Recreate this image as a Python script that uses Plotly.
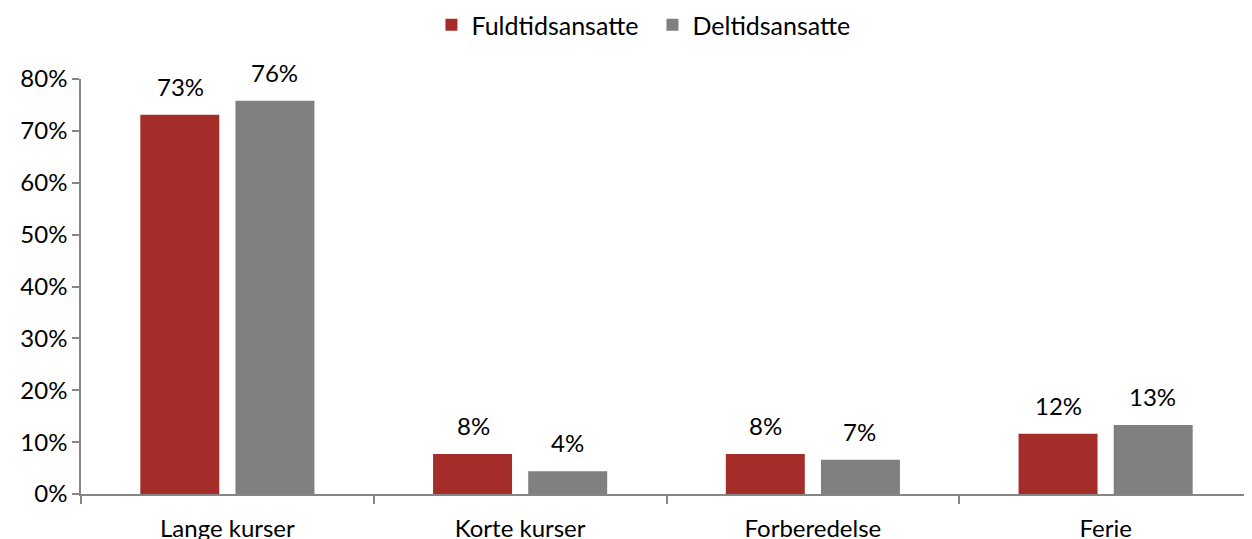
import plotly.graph_objects as go

categories = ['Lange kurser', 'Korte kurser', 'Forberedelse', 'Ferie']
fuldtid = [0.731, 0.077, 0.077, 0.116]
deltid = [0.758, 0.044, 0.066, 0.133]
y_ticks = [0, 0.1, 0.2, 0.3, 0.4, 0.5, 0.6, 0.7, 0.8]

RED = '#A42D2A'
GRAY = '#808080'
AXIS = '#868686'
FONT = 'Lato, Open Sans, sans-serif'
FS = 24

fig = go.Figure()

fig.add_trace(go.Bar(
    x=categories, y=fuldtid, name='Fuldtidsansatte',
    marker=dict(color=RED, line=dict(width=0))
))
fig.add_trace(go.Bar(
    x=categories, y=deltid, name='Deltidsansatte',
    marker=dict(color=GRAY, line=dict(width=0))
))

# value labels floating above each bar
for series, shift in ((fuldtid, -47), (deltid, 47)):
    for cat, val in zip(categories, series):
        fig.add_annotation(
            x=cat, y=val, xref='x', yref='y',
            text=f'{val:.0%}', showarrow=False,
            xshift=shift, yshift=12, yanchor='bottom',
            font=dict(size=FS, color='#000000', family=FONT)
        )

# the page body adds an 8px offset, so margins are trimmed to compensate
fig.update_layout(
    width=1252, height=539,
    margin=dict(l=73, r=8, t=71, b=53, autoexpand=False),
    plot_bgcolor='white', paper_bgcolor='white',
    barmode='group', bargap=0.35, bargroupgap=0.17,
    font=dict(family=FONT, size=FS, color='#000000'),
    legend=dict(
        orientation='h', x=0.488, xanchor='center', y=1.13, yanchor='middle',
        yref='paper', font=dict(size=25), traceorder='normal',
        entrywidth=176, entrywidthmode='pixels'
    ),
    showlegend=True
)

fig.update_xaxes(
    showline=True, linecolor=AXIS, linewidth=1.5, automargin=False,
    ticks='outside', tickson='boundaries', ticklen=8, tickcolor=AXIS,
    tickwidth=1.5, ticklabelstandoff=12, showgrid=False,
    tickfont=dict(size=FS)
)
fig.update_yaxes(
    range=[0, 0.8], tickvals=y_ticks, tickformat='.0%', automargin=False,
    showline=True, linecolor=AXIS, linewidth=1.5,
    ticks='outside', ticklen=7, tickcolor=AXIS, tickwidth=1.5,
    showgrid=False, zeroline=False, tickfont=dict(size=FS)
)

fig.write_html('out.html')
